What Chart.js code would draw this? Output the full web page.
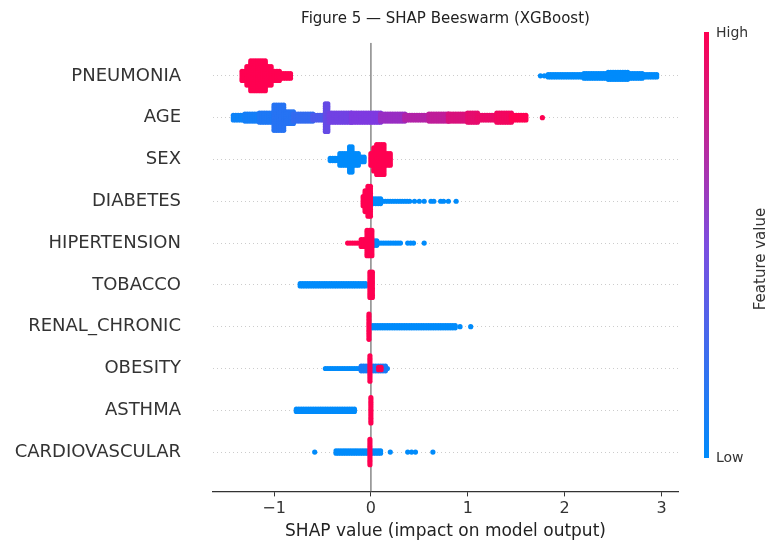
<!DOCTYPE html>
<html><head><meta charset="utf-8">
<script src="https://cdn.jsdelivr.net/npm/chart.js@4"></script>
<style>
body{margin:0;background:#fff;font-family:"DejaVu Sans",sans-serif;}
#wrap{position:relative;width:780px;height:546px;}
#title{position:absolute;top:9px;left:213px;width:465px;text-align:center;font-size:15px;color:#222;}
#cbar{position:absolute;left:704px;top:32px;width:5px;height:426px;background:linear-gradient(to top,#008bfb,#7c4ee0 50%,#ff0051);}
.cl{position:absolute;left:716px;font-size:14px;color:#333;}
#fv{position:absolute;left:700px;top:250px;width:120px;text-align:center;transform:rotate(-90deg);font-size:15px;color:#333;}
</style></head><body>
<div id="wrap"><canvas id="c" width="780" height="546"></canvas>
<div id="title">Figure 5 — SHAP Beeswarm (XGBoost)</div>
<div id="cbar"></div><div class="cl" style="top:24px">High</div><div class="cl" style="top:449px">Low</div>
<div id="fv">Feature value</div></div>
<script>
const features=["PNEUMONIA","AGE","SEX","DIABETES","HIPERTENSION","TOBACCO","RENAL_CHRONIC","OBESITY","ASTHMA","CARDIOVASCULAR"];
const xTicks=[-1,0,1,2,3];
// segments: [shapStart, shapEnd, stackCount, featureValue(0=low,1=high)]
const pneumonia=[[-1.33,-1.28,5,1],[-1.28,-1.24,9,1],[-1.24,-1.08,14,1],[-1.08,-1.02,9,1],[-1.02,-0.93,5,1],[-0.93,-0.82,3,1],
 [1.75,1.75,1,0],[1.79,1.79,1,0],[1.83,2.2,2,0],[2.2,2.45,3,0],[2.45,2.65,4,0],[2.65,2.8,3,0],[2.8,2.95,2,0]];
const age=[[-1.42,-1.3,3,0.05],[-1.3,-1.15,4,0.08],[-1.15,-1.0,5,0.12],[-1.0,-0.9,12,0.15],[-0.9,-0.8,6,0.15],[-0.8,-0.6,4,0.2],[-0.6,-0.48,3,0.3],[-0.47,-0.43,13,0.4],[-0.43,-0.2,5,0.45],[-0.2,0.1,5,0.5],[0.1,0.35,4,0.6],[0.35,0.6,3,0.7],[0.6,0.8,4,0.75],[0.8,1.0,4,0.85],[1.0,1.1,5,0.9],[1.1,1.3,3,0.92],[1.3,1.45,5,0.95],[1.45,1.6,3,1],[1.77,1.77,1,1]];
const sex=[[-0.42,-0.32,2,0],[-0.32,-0.22,6,0],[-0.22,-0.18,12,0],[-0.18,-0.12,6,0],[-0.12,-0.07,3,0],[0.0,0.03,6,1],[0.03,0.06,11,1],[0.06,0.15,14,1],[0.15,0.2,6,1]];
const diabetes=[[0.0,0.1,3,0],[0.1,0.4,1,0],[0.45,0.45,1,0],[0.5,0.5,1,0],[0.55,0.55,1,0],[0.62,0.62,1,0],[0.65,0.65,1,0],[0.72,0.72,1,0],[0.75,0.75,1,0],[0.8,0.8,1,0],[0.88,0.88,1,0],[-0.08,-0.06,5,1],[-0.06,-0.03,10,1],[-0.03,0.0,14,1]];
const hipertension=[[0.01,0.08,3,0],[0.08,0.32,1,0],[0.38,0.38,1,0],[0.41,0.41,1,0],[0.44,0.44,1,0],[0.55,0.55,1,0],[-0.24,-0.1,1,1],[-0.1,-0.04,4,1],[-0.04,0.01,12,1]];
const tobacco=[[-0.73,-0.05,2,0],[-0.01,0.02,12,1]];
const renal=[[0.02,0.88,2,0],[0.92,0.92,1,0],[1.03,1.03,1,0],[-0.02,0.0,12,1]];
const obesity=[[-0.47,-0.1,1,0],[-0.1,0.15,3,0.1],[0.17,0.17,1,0],[0.08,0.12,2,1],[-0.01,0.01,12,1]];
const asthma=[[-0.77,-0.17,2,0],[0.0,0.02,12,1]];
const cardio=[[-0.58,-0.58,1,0],[-0.36,-0.02,2,0],[0.0,0.1,2,0],[0.2,0.2,1,0],[0.38,0.38,1,0],[0.42,0.42,1,0],[0.46,0.46,1,0],[0.64,0.64,1,0],[-0.01,0.01,12,1]];
const rows=[pneumonia,age,sex,diabetes,hipertension,tobacco,renal,obesity,asthma,cardio];

function col(c){const a=[0,139,251],m=[126,58,224],b=[255,0,81];let p,q,t;
 if(c<0.5){p=a;q=m;t=c/0.5}else{p=m;q=b;t=(c-0.5)/0.5}
 return `rgb(${p.map((v,i)=>Math.round(v+(q[i]-v)*t)).join(',')})`;}
const pts=[];
rows.forEach((segs,r)=>segs.forEach(([x0,x1,n,c])=>{
 for(let x=x0;x<=x1+1e-9;x+=0.025){for(let k=0;k<n;k++)pts.push({x:x,y:r+(k-(n-1)/2)*0.055,c:c});}
}));
pts.sort((a,b)=>a.c-b.c);
new Chart(document.getElementById('c'),{
 data:{datasets:[
  {type:'line',data:[{x:0,y:-0.79},{x:0,y:9.94}],borderColor:'#888',borderWidth:1.5,pointRadius:0,order:10},
  {type:'scatter',data:pts.map(p=>({x:p.x,y:p.y})),pointBackgroundColor:pts.map(p=>col(p.c)),pointBorderWidth:0,pointRadius:2.6,order:1}
 ]},
 options:{responsive:false,animation:false,events:[],
  layout:{padding:{left:0,right:102,top:32,bottom:0}},
  plugins:{legend:{display:false},tooltip:{enabled:false}},
  scales:{
   x:{type:'linear',min:-1.63,max:3.17,
    afterBuildTicks:s=>{s.ticks=xTicks.map(v=>({value:v}))},
    ticks:{font:{size:16,family:'DejaVu Sans'},color:'#333',callback:v=>v<0?'−'+Math.abs(v):String(v)},
    grid:{drawOnChartArea:false,drawTicks:true,tickLength:5,color:'#333'},
    border:{color:'#333',width:1.2},
    title:{display:true,text:'SHAP value (impact on model output)',font:{size:17,family:'DejaVu Sans'},color:'#222',padding:{top:0}}},
   y:{type:'linear',min:-0.79,max:9.94,reverse:true,
    afterBuildTicks:s=>{s.ticks=features.map((f,i)=>({value:i}))},
    afterFit:s=>{s.width=213},
    ticks:{font:{size:18,family:'DejaVu Sans'},color:'#333',padding:32,callback:v=>features[v]},
    grid:{color:'#ccc',lineWidth:1,drawTicks:false},
    border:{display:false,dash:[1,3]}}
  }}
});
</script></body></html>
